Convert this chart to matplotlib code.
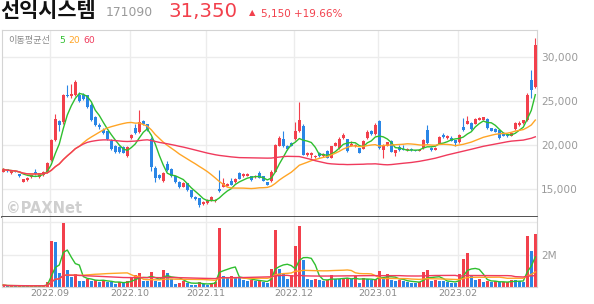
import matplotlib
matplotlib.use("Agg")
import matplotlib.pyplot as plt
import pandas as pd

W, H = 594, 304

# daily candles (2022-08-16 .. 2023-02-28), one row per trading day
opens = [16900, 17200, 16750, 17050, 16650, 15800, 15950, 16300, 16950, 16300,
         16550, 16800, 18300, 20550, 22700, 22600, 25700, 25550, 25600, 25650,
         25700, 25600, 24500, 23100, 22250, 21700, 21500, 20450, 19850, 19750,
         19750, 18700, 20800, 21850, 21450, 22700, 22300, 20600, 17400, 16550,
         15850, 17850, 17200, 16400, 15750, 15250, 15650, 14850, 14100, 13900,
         13250, 13350, 13700, 13550, 14950, 15250, 15350, 15900, 15750, 16750,
         16400, 16450, 16400, 16300, 16800, 16400, 15750, 15850, 16950, 19850,
         20600, 19850, 20150, 20600, 21500, 22150, 18800, 18800, 18550, 19100,
         18700, 19300, 18500, 19850, 19600, 20750, 20600, 19850, 19800, 19600,
         19550, 20750, 21500, 21200, 22700, 19400, 19850, 20400, 19050, 19750,
         19550, 19350, 19550, 19400, 19300, 19600, 21650, 19600, 19400, 20100,
         21050, 20800, 20800, 20500, 20250, 22050, 22350, 22450, 22350, 22800,
         22850, 22900, 21850, 21750, 21650, 21300, 21100, 21000, 21750, 22200,
         22450, 22750, 27300, 26600]
highs = [17300, 17250, 17050, 17100, 16700, 16100, 16300, 16600, 17200, 16800,
         17000, 18000, 20600, 23500, 22800, 25800, 26800, 26900, 27400, 26000,
         25900, 25700, 24700, 23300, 22500, 21900, 21600, 20600, 20000, 19900,
         19850, 19900, 21250, 22400, 23950, 22850, 22400, 20900, 17600, 16700,
         16900, 18100, 17350, 16500, 15850, 15750, 15700, 14900, 14200, 14000,
         13600, 13800, 14200, 13850, 17100, 16200, 15650, 16250, 16200, 16850,
         16750, 16750, 16500, 16550, 17000, 16450, 15800, 17100, 20100, 21000,
         21600, 19950, 20300, 22600, 24900, 22300, 19150, 19150, 18800, 19200,
         19000, 19400, 19900, 20250, 20900, 21300, 20700, 20400, 20100, 19650,
         20500, 21700, 21650, 22500, 22750, 20050, 20350, 20500, 19400, 19950,
         19950, 19600, 19650, 19450, 19550, 20600, 22200, 19700, 19700, 20950,
         21300, 21100, 21000, 20550, 21200, 23000, 23300, 22550, 23000, 23100,
         23200, 23000, 21950, 21850, 21700, 21400, 21200, 21350, 22600, 22700,
         22800, 25900, 28500, 32100]
lows = [16850, 16950, 16700, 16850, 16350, 15750, 15900, 16250, 16600, 16250,
        16500, 16750, 18200, 20400, 21500, 22400, 25400, 25300, 25500, 24900,
        25100, 24200, 22700, 22100, 21800, 21200, 20500, 19400, 19000, 19100,
        19000, 18600, 20600, 21200, 21350, 22200, 21600, 17000, 15800, 16100,
        15750, 17000, 16350, 15700, 15100, 15150, 14700, 13950, 13700, 12900,
        13150, 13300, 13650, 13500, 14600, 15150, 15300, 15400, 15700, 16100,
        16350, 16400, 15900, 16250, 16200, 15850, 15400, 15750, 16900, 19800,
        19700, 19450, 19800, 20500, 21400, 18800, 18700, 18500, 18450, 18650,
        18600, 18450, 18450, 19800, 19550, 20700, 19150, 19800, 19700, 19000,
        19500, 20700, 21100, 21150, 19500, 18450, 19800, 19150, 18700, 19300,
        19350, 19300, 19300, 19250, 19250, 19550, 20100, 19300, 19350, 20050,
        20800, 20700, 20400, 19900, 20200, 21600, 22300, 21700, 22300, 22750,
        22800, 21800, 21550, 21400, 20700, 20950, 20900, 20950, 21700, 22150,
        22400, 22700, 25300, 26400]
closes = [17200, 17000, 16980, 16900, 16450, 16050, 16250, 16550, 16650, 16750,
          16950, 17900, 20500, 22900, 22200, 25700, 25550, 25750, 27100, 25000,
          25200, 24300, 22800, 22250, 22050, 21300, 20600, 19500, 19200, 19200,
          19100, 19750, 21100, 21300, 22600, 22300, 21700, 17500, 16200, 16250,
          16750, 17100, 16450, 15800, 15200, 15650, 14800, 14050, 13800, 13200,
          13500, 13700, 14100, 13750, 14700, 15600, 15550, 15450, 16100, 16150,
          16650, 16650, 15950, 16450, 16250, 15900, 15450, 16950, 20000, 20750,
          19800, 19550, 19850, 21500, 22800, 18850, 19050, 19050, 18750, 18700,
          18900, 18500, 19800, 20150, 20700, 21050, 19250, 20100, 20000, 19100,
          20400, 21450, 21200, 22250, 19600, 19950, 20250, 19200, 19350, 19350,
          19400, 19500, 19350, 19300, 19450, 20500, 20200, 19350, 19650, 20850,
          20850, 21000, 20450, 20150, 21100, 21650, 22700, 21750, 22900, 23000,
          23100, 21850, 21600, 21450, 20750, 21000, 21000, 21300, 22450, 22450,
          22750, 25650, 26200, 31350]
volumes = [120, 60, 80, 50, 90, 70, 60, 80, 70, 60,
           90, 300, 2820, 2760, 855, 3950, 1060, 607, 774, 400,
           380, 505, 402, 444, 299, 444, 299, 280, 196, 320,
           258, 402, 568, 712, 857, 402, 380, 918, 361, 340,
           1060, 857, 506, 200, 235, 400, 235, 150, 140, 300,
           200, 150, 235, 300, 3640, 700, 600, 650, 600, 560,
           450, 400, 430, 350, 380, 300, 250, 1130, 3500, 1130,
           815, 465, 712, 2510, 3750, 1640, 506, 460, 480, 420,
           380, 440, 712, 500, 480, 500, 560, 480, 650, 260,
           560, 500, 450, 480, 960, 500, 774, 450, 360, 420,
           380, 340, 260, 250, 280, 918, 1080, 370, 420, 390,
           360, 300, 260, 250, 774, 1750, 2090, 712, 420, 480,
           300, 400, 280, 350, 290, 290, 300, 450, 420, 350,
           340, 3130, 2220, 3250]  # thousand shares

month_start_idx = [12, 32, 51, 73, 94, 114]
month_labels = ["2022.09", "2022.10", "2022.11", "2022.12", "2023.01", "2023.02"]
price_ticks = [15000, 20000, 25000, 30000]

UP, DOWN = "#f2404c", "#2a86e6"
MA_COLORS = {5: "#2fbf2f", 20: "#ffa526", 60: "#f03a5c"}
GRID = "#ececec"
KR = ["Noto Sans CJK KR", "DejaVu Sans"]

df = pd.DataFrame({"open": opens, "high": highs, "low": lows,
                   "close": closes, "vol": [v * 1000 for v in volumes]})
x = list(range(len(df)))
candle_col = [UP if c >= o else DOWN for o, c in zip(df["open"], df["close"])]
vol_col = [UP if i == 0 or df["vol"][i] >= df["vol"][i - 1] else DOWN for i in x]

fig = plt.figure(figsize=(W / 100, H / 100), dpi=100, facecolor="white")


def fx(px):
    return px / W


def fy(py):
    return 1 - py / H


left, right = fx(1.7), fx(537.3)
ax = fig.add_axes([left, fy(216.7), right - left, fy(30) - fy(216.7)])
axv = fig.add_axes([left, fy(287), right - left, fy(216.7) - fy(287)])

grid_x = [i - 0.33 for i in month_start_idx]
for a in (ax, axv):
    a.set_xlim(-0.4, 133.5)
    for gx in grid_x:
        a.axvline(gx, color=GRID, lw=1, zorder=0)
    a.tick_params(length=0)
    for s in a.spines.values():
        s.set_color("#d4d4d4")
        s.set_linewidth(0.8)

# price panel
ax.set_ylim(11820, 33030)
for p in price_ticks:
    ax.axhline(p, color=GRID, lw=1, zorder=0)
ax.vlines(x, df["low"], df["high"], colors=candle_col, lw=0.8, zorder=2)
body_h = [max(abs(c - o), 90) for o, c in zip(df["open"], df["close"])]
body_b = [min(o, c) for o, c in zip(df["open"], df["close"])]
ax.bar(x, body_h, bottom=body_b, width=0.7, color=candle_col, zorder=3)
for n, col in MA_COLORS.items():
    ax.plot(x, df["close"].rolling(n, min_periods=1).mean(), color=col, lw=1.0, zorder=4)
ax.yaxis.tick_right()
ax.set_yticks(price_ticks)
ax.set_yticklabels([f"{p:,}" for p in price_ticks], fontsize=7.6, color="#9a9a9a")
ax.tick_params(axis="y", pad=2.5)
ax.set_xticks([])
ax.spines["bottom"].set_color("#333333")
ax.spines["bottom"].set_linewidth(1.2)
ax.spines["bottom"].set_zorder(6)

ax.text(0.012, 0.943, "이동평균선", transform=ax.transAxes, fontsize=6.6,
        color="#8a8a8a", va="center", family=KR)
fig.text(fx(59.3), fy(40.7), "5", fontsize=6.6, color=MA_COLORS[5], va="center")
fig.text(fx(68), fy(40.7), "20", fontsize=6.6, color=MA_COLORS[20], va="center")
fig.text(fx(83), fy(40.7), "60", fontsize=6.6, color=MA_COLORS[60], va="center")
ax.text(0.008, 0.022, "©PAXNet", transform=ax.transAxes, fontsize=10.5,
        fontweight="bold", color="#cfcfcf", va="baseline", zorder=1)

# volume panel
axv.set_ylim(0, 4.35e6)
for v in (2e6, 4e6):
    axv.axhline(v, color=GRID, lw=1, zorder=0)
axv.bar(x, df["vol"], width=0.7, color=vol_col, zorder=2)
for n, col in MA_COLORS.items():
    axv.plot(x, df["vol"].rolling(n, min_periods=1).mean(), color=col, lw=1.0, zorder=3)
axv.yaxis.tick_right()
axv.set_yticks([2e6])
axv.set_yticklabels(["2M"], fontsize=7.6, color="#9a9a9a")
axv.tick_params(axis="y", pad=2.5)
axv.set_xticks(grid_x)
axv.set_xticklabels(month_labels, fontsize=6.8, color="#8a8a8a")
axv.tick_params(axis="x", pad=1.5)
axv.spines["top"].set_visible(False)

# header
fig.text(fx(0.5), fy(17), "선익시스템", fontsize=15, fontweight="bold", color="#111111",
         va="baseline", family=KR)
fig.text(fx(106), fy(16.5), "171090", fontsize=8.9, color="#9a9a9a", va="baseline")
fig.text(fx(168), fy(16.8), "31,350", fontsize=14.2, color=UP, va="baseline")
fig.text(fx(249), fy(15.5), "▲", fontsize=6, color=UP, va="baseline")
fig.text(fx(261), fy(16.5), "5,150 +19.66%", fontsize=7.5, color=UP, va="baseline")

fig.savefig("out.png", dpi=100, facecolor="white")
